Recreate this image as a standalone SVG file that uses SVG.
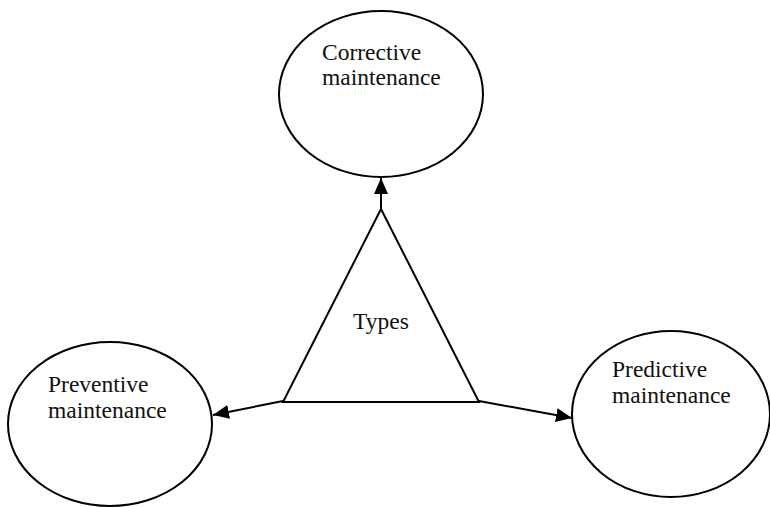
<svg xmlns="http://www.w3.org/2000/svg" width="770" height="507" viewBox="0 0 770 507">
  <style>
    .shape { fill: #ffffff; stroke: #000000; stroke-width: 2; }
    .edge { fill: none; stroke: #000000; stroke-width: 2; }
    .label { font-family: "Liberation Serif", "Times New Roman", serif; font-size: 23.5px; fill: #111111; }
  </style>
  <defs>
    <marker id="arrow" viewBox="0 0 16 14" refX="16" refY="7" markerWidth="16" markerHeight="14" markerUnits="userSpaceOnUse" orient="auto">
      <path d="M0,0 L16,7 L0,14 Z" fill="#000000"/>
    </marker>
  </defs>
  <rect width="770" height="507" fill="#ffffff"/>

  <g id="corrective">
    <ellipse class="shape" cx="381" cy="94" rx="102" ry="83"/>
    <text class="label" x="322" y="60">Corrective</text>
    <text class="label" x="322" y="85">maintenance</text>
  </g>

  <g id="preventive">
    <ellipse class="shape" cx="110" cy="424" rx="102" ry="82"/>
    <text class="label" x="48" y="392">Preventive</text>
    <text class="label" x="48" y="418">maintenance</text>
  </g>

  <g id="predictive">
    <ellipse class="shape" cx="671" cy="414" rx="99" ry="83"/>
    <text class="label" x="612" y="377">Predictive</text>
    <text class="label" x="612" y="403">maintenance</text>
  </g>

  <g id="types">
    <polygon class="shape" points="381,209 283,402 479,402"/>
    <text class="label" x="381" y="329" text-anchor="middle">Types</text>
  </g>

  <g id="connectors">
    <line class="edge" x1="381" y1="209" x2="381" y2="178" marker-end="url(#arrow)"/>
    <line class="edge" x1="283" y1="401" x2="213" y2="415" marker-end="url(#arrow)"/>
    <line class="edge" x1="479" y1="401" x2="572" y2="418" marker-end="url(#arrow)"/>
  </g>
</svg>
